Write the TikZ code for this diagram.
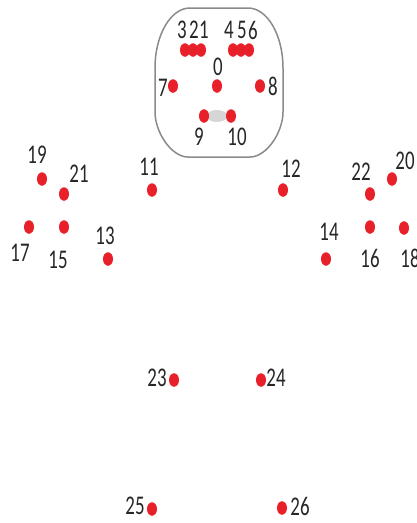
\documentclass[tikz,border=0pt]{standalone}
\usepackage{fontspec}
\setmainfont{Carlito}[FakeStretch=0.7]
\definecolor{kpred}{HTML}{E8202A}
\definecolor{kpgray}{HTML}{8A8A8A}
\definecolor{kpfill}{HTML}{D6D6D6}
\usetikzlibrary{shapes.geometric}
\tikzset{
  kp/.style={ellipse, fill=kpred, inner sep=0pt, minimum width=10pt, minimum height=13.5pt},
  lbl/.style={inner sep=0pt, font=\fontsize{27}{27}\selectfont, text=black!85},
}
\begin{document}
\begin{tikzpicture}[x=1pt,y=-1pt]
\useasboundingbox (0,0) rectangle (417,523);
% head outline
\draw[kpgray, line width=1.5pt]
  (190,8) -- (248,8) .. controls (267.3,8) and (283,34.9) .. (283,68)
  -- (283,112) .. controls (283,132.1) and (266.7,157) .. (250,157)
  -- (188,157) .. controls (171.3,157) and (155,132.1) .. (155,112)
  -- (155,68) .. controls (155,34.9) and (170.7,8) .. (190,8) -- cycle;
\node[ellipse, fill=kpfill, inner sep=0pt, minimum width=21pt, minimum height=12pt] (mouth) at (217,116) {};
% head points
\node[kp] (p3) at (185,50) {};
\node[kp] (p2) at (193,50) {};
\node[kp] (p1) at (201,50) {};
\node[kp] (p4) at (233,50) {};
\node[kp] (p5) at (241,50) {};
\node[kp] (p6) at (249,50) {};
\node[kp] (p0) at (217,86) {};
\node[kp] (p7) at (173,86) {};
\node[kp] (p8) at (260,86) {};
\node[kp] (p9) at (204,116) {};
\node[kp] (p10) at (231,116) {};
% body points
\node[kp] (p11) at (152,190) {};
\node[kp] (p12) at (283,190) {};
\node[kp] (p13) at (108,259) {};
\node[kp] (p14) at (326,259) {};
\node[kp] (p15) at (64,227) {};
\node[kp] (p16) at (370,227) {};
\node[kp] (p17) at (29,227) {};
\node[kp] (p18) at (404,228) {};
\node[kp] (p19) at (42,179) {};
\node[kp] (p20) at (392,179) {};
\node[kp] (p21) at (64,194) {};
\node[kp] (p22) at (370,194) {};
\node[kp] (p23) at (174,380) {};
\node[kp] (p24) at (261,380) {};
\node[kp] (p25) at (152,509) {};
\node[kp] (p26) at (282,508) {};
% labels
\node[lbl] (l3) at (182,30) {3};
\node[lbl] (l2) at (194,30) {2};
\node[lbl] (l1) at (204,30) {1};
\node[lbl] (l4) at (229,30) {4};
\node[lbl] (l5) at (242,30) {5};
\node[lbl] (l6) at (253,30) {6};
\node[lbl] (l0) at (218,67) {0};
\node[lbl] (l7) at (163,88) {7};
\node[lbl] (l8) at (273,86) {8};
\node[lbl] (l9) at (199,137) {9};
\node[lbl] (l10) at (237,137) {10};
\node[lbl] (l11) at (149,167) {11};
\node[lbl] (l12) at (291,169) {12};
\node[lbl] (l13) at (105,236) {13};
\node[lbl] (l14) at (329,232) {14};
\node[lbl] (l15) at (58,260) {15};
\node[lbl] (l16) at (370,258) {16};
\node[lbl] (l17) at (20,253) {17};
\node[lbl] (l18) at (410,258) {18};
\node[lbl] (l19) at (37,155) {19};
\node[lbl] (l20) at (405,161) {20};
\node[lbl] (l21) at (79,174) {21};
\node[lbl] (l22) at (361,172) {22};
\node[lbl] (l23) at (157,378) {23};
\node[lbl] (l24) at (276,378) {24};
\node[lbl] (l25) at (135,506) {25};
\node[lbl] (l26) at (300,506) {26};
\end{tikzpicture}
\end{document}
